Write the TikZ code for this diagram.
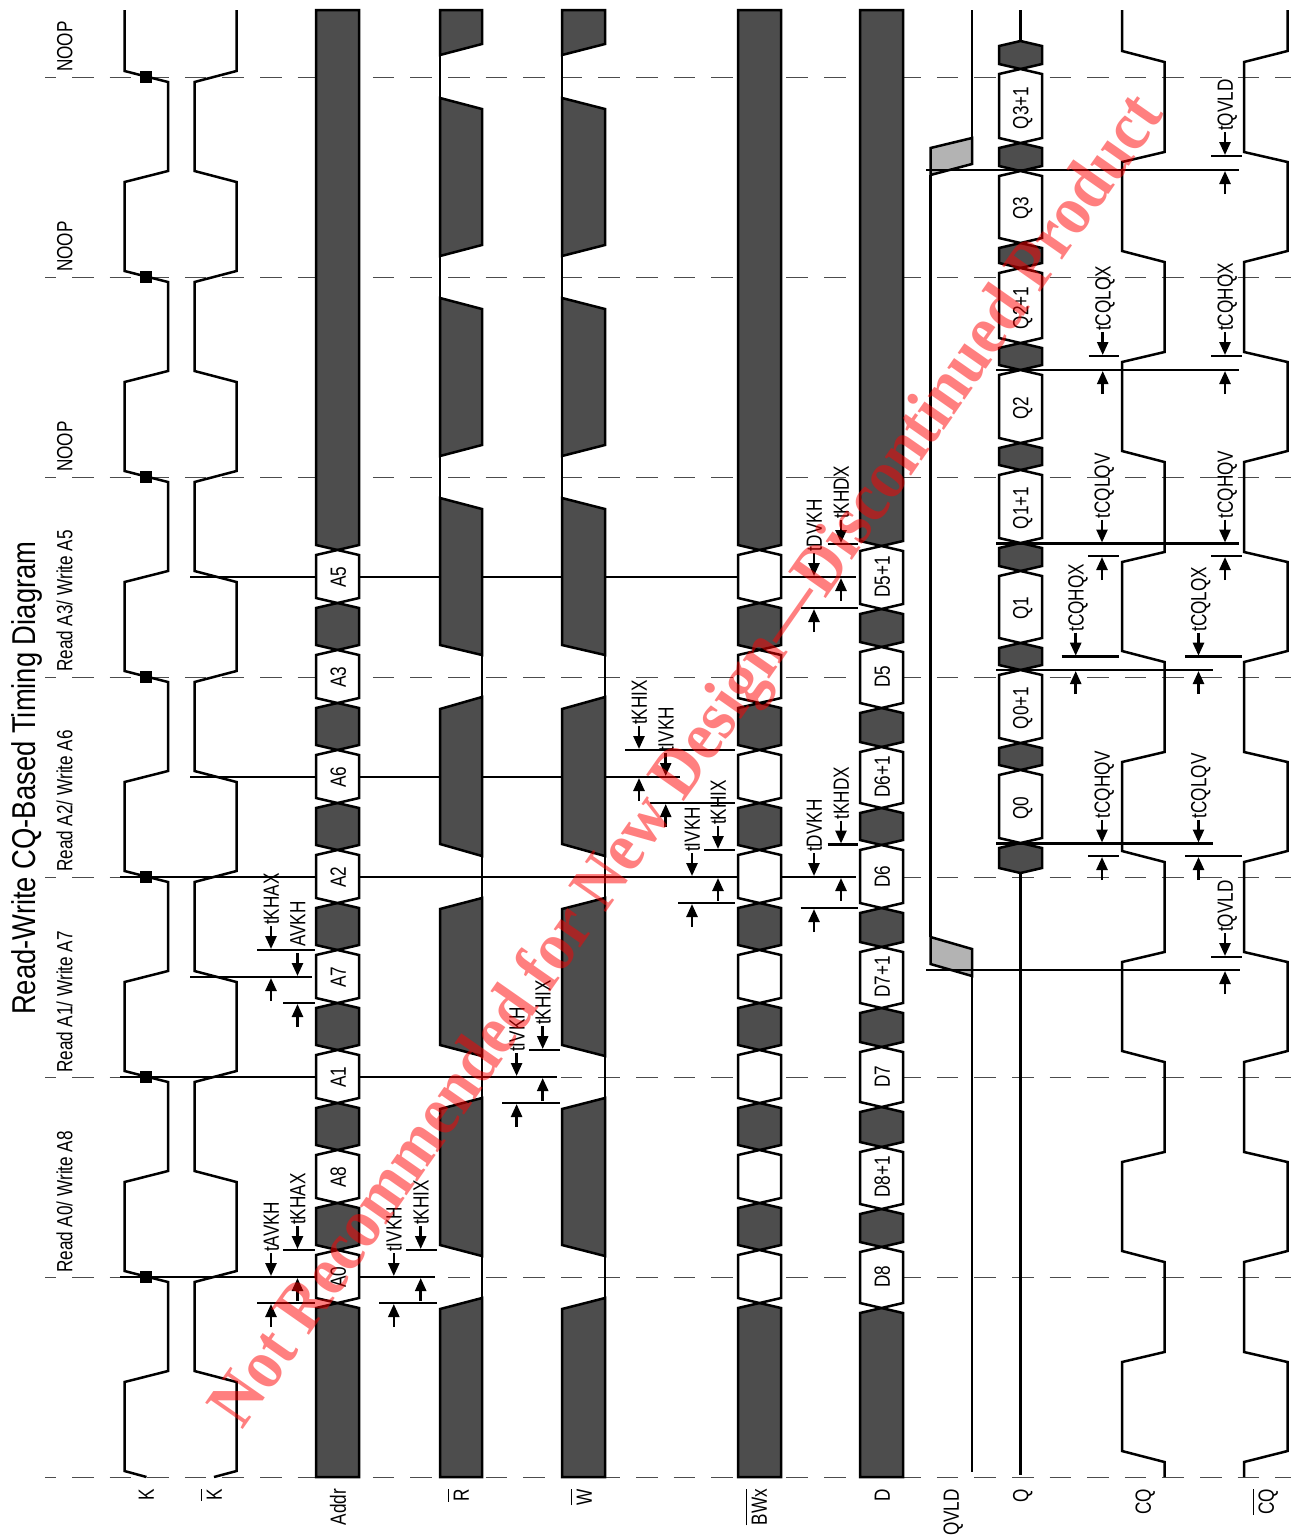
\documentclass[tikz,border=0pt]{standalone}
\usepackage{fontspec}
\setmainfont{Liberation Sans}
\newfontfamily\stampfont{Liberation Serif}
\usetikzlibrary{arrows.meta}
\definecolor{busdark}{HTML}{4D4D4D}
\definecolor{busgray}{HTML}{B3B3B3}
\tikzset{
  sigline/.style={line width=2.5pt,line join=miter},
  reftick/.style={line width=2.5pt},
  griddash/.style={line width=1pt,black!70,dash pattern=on 21.6pt off 16pt,dash phase=10.6pt},
  busfill/.style={line width=2.5pt,draw=black,fill=busdark},
  buswhite/.style={line width=2.5pt,draw=black,fill=white},
  tarrow/.style={line width=2.5pt,-{Triangle[length=13pt,width=11pt]}},
  siglabel/.style={rotate=90,xscale=.78,inner sep=0pt,text height=15.8pt,text depth=0pt,font=\fontsize{22}{24}\selectfont},
  timelabel/.style={siglabel,anchor=west},
  cmdlabel/.style={siglabel,anchor=west},
  pinlabel/.style={siglabel,anchor=east},
  titlelabel/.style={rotate=90,xscale=.83,inner sep=0pt,anchor=west,font=\fontsize{33}{36}\selectfont}
}
\newcommand{\bushex}[5]{\draw[#5] (#1,{#3+5}) -- ({(#1+#2)/2},#3) -- (#2,{#3+5}) -- (#2,{#4-5}) -- ({(#1+#2)/2},#4) -- (#1,{#4-5}) -- cycle;}
\newcommand{\barsig}[1]{\sbox0{#1}\rlap{\rule[19.5pt]{\wd0}{1.8pt}}\box0}
\begin{document}
\begin{tikzpicture}[x=1pt,y=-1pt]
\path[use as bounding box] (0,0) rectangle (1291,1535);
% clock grid
\foreach \y in {77,277,477,677,877,1077,1277,1477}
  \draw[griddash] (45,\y) -- (1291,\y);
% reference edges behind the buses
\draw[reftick] (120,1277) -- (435,1277);
\draw[reftick] (120,1077) -- (557,1077);
\draw[reftick] (120,877) -- (856,877);
\draw[reftick] (190,977) -- (312,977);
\draw[reftick] (190,777) -- (680,777);
\draw[reftick] (190,577) -- (856,577);

% K and K bar
\draw[sigline] (124.5,10) \foreach \k in {0,...,6} { -- (124.5,{71+200*\k}) -- (168,{82+200*\k}) -- (168,{171+200*\k}) -- (124.5,{182+200*\k}) } -- (124.5,1471) -- (146.5,1477);
\draw[sigline] (236.5,10) \foreach \k in {0,...,6} { -- (236.5,{71+200*\k}) -- (194.5,{82+200*\k}) -- (194.5,{171+200*\k}) -- (236.5,{182+200*\k}) } -- (236.5,1471) -- (214,1477);
\foreach \y in {77,277,477,677,877,1077,1277}
  \fill[black] (140,\y-6) rectangle (152,\y+6);

% Addr
\draw[busfill] (316,10) -- (359,10) -- (359,545) -- (337.5,550) -- (316,545) -- cycle;
\draw[busfill] (316,1308) -- (337.5,1303) -- (359,1308) -- (359,1477) -- (316,1477) -- cycle;
\foreach \ya/\yb in {603/650,703/750,803/850,903/950,1003/1050,1103/1150,1203/1250} {
  \bushex{316}{359}{\ya}{\yb}{busfill}
}
\foreach \ya/\yb/\txt in {550/603/A5,650/703/A3,750/803/A6,850/903/A2,950/1003/A7,1050/1103/A1,1150/1203/A8,1250/1303/A0} {
  \bushex{316}{359}{\ya}{\yb}{buswhite}
  \node[siglabel] (addr\txt) at (338,{\ya+27}) {\txt};
}

% R and W
\foreach \xl/\xr in {440/482,562/605} {
  \draw[sigline] (\xl,10) -- (\xl,645);
  \draw[sigline] (\xr,655) -- (\xr,1298);
  \draw[busfill] (\xl,10) -- (\xr,10) -- (\xr,44) -- (\xl,55) -- cycle;
  \draw[busfill] (\xl,98) -- (\xr,109) -- (\xr,245) -- (\xl,256) -- cycle;
  \draw[busfill] (\xl,298) -- (\xr,309) -- (\xr,445) -- (\xl,456) -- cycle;
  \draw[busfill] (\xl,498) -- (\xr,509) -- (\xr,655) -- (\xl,645) -- cycle;
  \draw[busfill] (\xr,697) -- (\xl,709) -- (\xl,844) -- (\xr,856) -- cycle;
  \draw[busfill] (\xr,898) -- (\xl,909) -- (\xl,1045) -- (\xr,1056) -- cycle;
  \draw[busfill] (\xr,1098) -- (\xl,1109) -- (\xl,1245) -- (\xr,1256) -- cycle;
  \draw[busfill] (\xr,1298) -- (\xl,1309) -- (\xl,1477) -- (\xr,1477) -- cycle;
}

% BWx
\draw[busfill] (738,10) -- (781,10) -- (781,545) -- (759.5,550) -- (738,545) -- cycle;
\draw[busfill] (738,1308) -- (759.5,1303) -- (781,1308) -- (781,1477) -- (738,1477) -- cycle;
\foreach \ya/\yb in {603/650,703/750,803/850,903/950,1003/1050,1103/1150,1203/1250} {
  \bushex{738}{781}{\ya}{\yb}{busfill}
}
\foreach \ya/\yb in {550/603,650/703,750/803,850/903,950/1003,1050/1103,1150/1203,1250/1303} {
  \bushex{738}{781}{\ya}{\yb}{buswhite}
}

% D
\draw[busfill] (860,10) -- (903,10) -- (903,541) -- (881.5,546) -- (860,541) -- cycle;
\draw[busfill] (860,1313) -- (881.5,1308) -- (903,1313) -- (903,1477) -- (860,1477) -- cycle;
\foreach \ya/\yb in {609/647,708/747,808/845,908/947,1008/1047,1107/1147,1209/1247} {
  \bushex{860}{903}{\ya}{\yb}{busfill}
}
\foreach \ya/\yb/\yc/\nm/\txt in {546/609/577/d5a/D5+1,647/708/677/d5/D5,747/808/777/d6a/D6+1,845/908/877/d6/D6,947/1008/977/d7a/D7+1,1047/1107/1077/d7/D7,1147/1209/1177/d8a/D8+1,1247/1308/1277/d8/D8} {
  \bushex{860}{903}{\ya}{\yb}{buswhite}
  \node[siglabel] (\nm) at (882,\yc) {\txt};
}

% QVLD
\draw[sigline] (972,10) -- (972,138);
\draw[sigline] (930.5,175) -- (930.5,937);
\draw[sigline] (972,976) -- (972,1472);
\draw[line width=2.5pt,fill=busgray] (972,138) -- (930.5,148) -- (930.5,175) -- (972,164) -- cycle;
\draw[line width=2.5pt,fill=busgray] (930.5,937) -- (972,949) -- (972,976) -- (930.5,964) -- cycle;

% Q
\draw[sigline] (1020.5,10) -- (1020.5,41);
\draw[sigline] (1020.5,873) -- (1020.5,1475);
\foreach \ya/\yb in {41/69,143/171,243/268,343/370,443/470,543/571,643/670,743/770,843/873} {
  \bushex{999}{1042}{\ya}{\yb}{busfill}
}
\foreach \ya/\yb/\yc/\nm/\txt in {69/143/108/q3a/Q3+1,171/243/208/q3/Q3,268/343/308/q2a/Q2+1,370/443/408/q2/Q2,470/543/508/q1a/Q1+1,571/643/608/q1/Q1,670/743/708/q0a/Q0+1,770/843/808/q0/Q0} {
  \bushex{999}{1042}{\ya}{\yb}{buswhite}
  \node[siglabel] (\nm) at (1020.5,\yc) {\txt};
}

% CQ and CQ bar
\draw[sigline] (1122,10) \foreach \k in {0,...,6} { -- (1122,{51+200*\k}) -- (1164.5,{62+200*\k}) -- (1164.5,{152+200*\k}) -- (1122,{162+200*\k}) } -- (1122,1451) -- (1164.5,1462) -- (1164.5,1477);
\draw[sigline] (1287.5,10) \foreach \k in {0,...,6} { -- (1287.5,{51+200*\k}) -- (1244,{62+200*\k}) -- (1244,{152+200*\k}) -- (1287.5,{162+200*\k}) } -- (1287.5,1451) -- (1244,1462) -- (1244,1477);

% reference edges over Q
\foreach \y/\xb in {170/1239,370/1239,543.5/1239,670/1213,843.5/1213,970/1240}
  \draw[reftick] (996,\y) -- (\xb,\y);
\draw[reftick] (926,170) -- (996,170);
\draw[reftick] (926,970) -- (996,970);

% timing bars
\foreach \xa/\xb/\y in {257/315/1303,283/315/1250,379/437/1303,406/437/1250,502/560/1103,529/560/1050,257/315/950,283/315/1003,678/735/903,704/735/850,625/735/750,650/735/803,800.6/858/908,827.5/858/844.5,800.6/858/608,827.5/858/544,1088/1119/856,1185/1241.6/856,1061.6/1119/656.7,1185/1241.6/656.7,1088/1119/556,1211/1241.6/556,1088.7/1119/356,1211/1242/356,1211/1242/156,1211/1242/957}
  \draw[reftick] (\xa,\y) -- (\xb,\y);
% timing arrows
\foreach \x/\yt/\yb/\txt [count=\i] in {271/1277/1303/tAVKH,297.5/1250/1277/tKHAX,393.8/1277/1303/tIVKH,420.7/1250/1277/tKHIX,516.6/1077/1103/tIVKH,542.7/1050/1077/tKHIX,271/950/977/tKHAX,692/877/903/tIVKH,718/850/877/tKHIX,639/750/777/tKHIX,665.7/777/803/tIVKH,814/877/908/tDVKH,841/844.5/877/tKHDX,814/577/608/tDVKH,841/544/577/tKHDX,1102/843.5/856/tCQHQV,1198.5/843.5/856/tCQLQV,1075.7/656.7/670/tCQHQX,1198.5/656.7/670/tCQLQX,1102/543.5/556/tCQLQV,1225/543.5/556/tCQHQV,1102.7/356/370/tCQLQX,1225/356/370/tCQHQX,1225/156/170/tQVLD,1225/957/970/tQVLD} {
  \draw[tarrow] (\x,\yt-24) -- (\x,\yt-1);
  \draw[tarrow] (\x,\yb+24) -- (\x,\yb+1);
  \node[timelabel] (tm\i) at (\x,\yt-25) {\txt};
}
\draw[tarrow] (297.5,953) -- (297.5,976);
\draw[tarrow] (297.5,1027) -- (297.5,1004);
\node[timelabel] (tmavkh) at (297.5,947) {AVKH};

% command labels
\node[cmdlabel] (noopa) at (64.5,72) {NOOP};
\node[cmdlabel] (noopb) at (64.5,272) {NOOP};
\node[cmdlabel] (noopc) at (64.5,472) {NOOP};
\node[cmdlabel] (cmdc) at (64.5,672) {Read A3/ Write A5};
\node[cmdlabel] (cmdb) at (64.5,872) {Read A2/ Write A6};
\node[cmdlabel] (cmda) at (64.5,1073) {Read A1/ Write A7};
\node[cmdlabel] (cmdz) at (64.5,1273) {Read A0/ Write A8};
\node[titlelabel] (title) at (26.5,1015) {Read-Write CQ-Based Timing Diagram};

% pin labels
\node[pinlabel] (pinK) at (146,1489) {K};
\node[pinlabel] (pinKb) at (214,1489) {\barsig{K}};
\node[pinlabel] (pinAddr) at (338,1489) {Addr};
\node[pinlabel] (pinR) at (461,1489) {\barsig{R}};
\node[pinlabel] (pinW) at (584,1489) {\barsig{W}};
\node[pinlabel] (pinBW) at (759,1489) {\barsig{BWx}};
\node[pinlabel] (pinD) at (882,1489) {D};
\node[pinlabel] (pinV) at (951,1489) {QVLD};
\node[pinlabel] (pinQ) at (1020.5,1489) {Q};
\node[pinlabel] (pinCQ) at (1143,1489) {CQ};
\node[pinlabel] (pinCQb) at (1266,1489) {\barsig{CQ}};

% stamp
\node[rotate=55,xscale=.91,inner sep=0pt,opacity=.5,text=red,font=\stampfont\bfseries\fontsize{70}{74}\selectfont] (stamp) at (690,763) {Not Recommended for New Design—Discontinued Product};
\end{tikzpicture}
\end{document}
